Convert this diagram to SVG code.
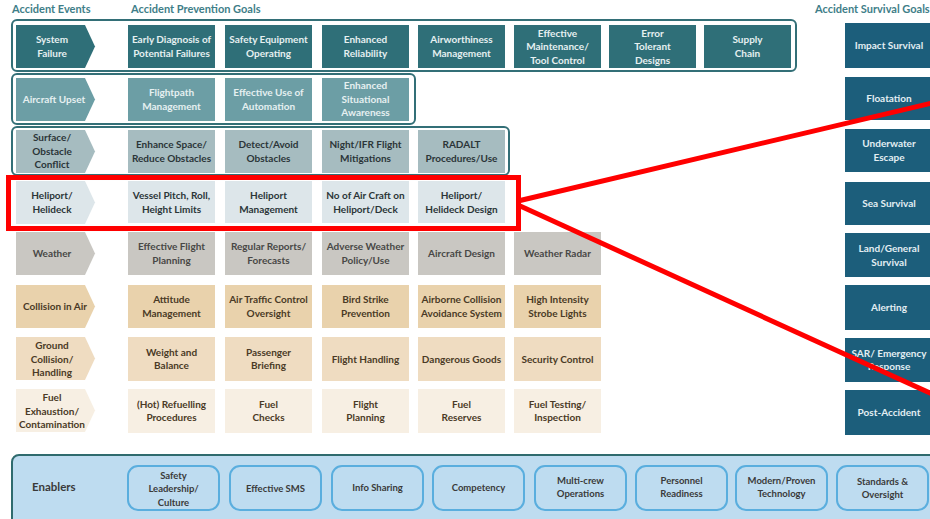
<svg xmlns="http://www.w3.org/2000/svg" width="930" height="519" viewBox="0 0 930 519">
<style>
text{font-family:Lato,"Liberation Sans",sans-serif;font-weight:bold;font-size:10px;text-anchor:middle}
.hdr{fill:#3e7e88;font-size:11px;text-anchor:start}
.frame{fill:#fff;stroke:#336f77;stroke-width:2}
.r1{fill:#2f6f78}.r2{fill:#6c9ea5}.r3{fill:#a6bcc0}.r4{fill:#dde6ea}.r5{fill:#c9c7c2}.r6{fill:#e9d2ac}.r7{fill:#efdcc1}.r8{fill:#f7efe3}
.t1{fill:#e6f0f1}.t3{fill:#2b3538}.t5{fill:#484846}.t6{fill:#4a3a26}
.surv{fill:#1c5e7b}.ts{fill:#e3eef3}
.enb{fill:#bedcf0;stroke:#2f6b6e;stroke-width:2}
.pill{fill:#bedcf0;stroke:#5aaede;stroke-width:2}
.te{fill:#3a3a3a;font-size:9.5px}
.red{fill:none;stroke:#ff0000;stroke-width:5}
</style>
<defs>
<polygon id="chev" points="0,0 69,0 79,21.5 69,43 0,43"/>
</defs>

<text class="hdr" x="12" y="13">Accident Events</text>
<text class="hdr" x="131" y="13">Accident Prevention Goals</text>
<text class="hdr" x="815" y="13">Accident Survival Goals</text>

<rect class="frame" x="12" y="20" width="784" height="51" rx="5"/>
<rect class="frame" x="12" y="74" width="403" height="50" rx="5"/>
<rect class="frame" x="12" y="127" width="497" height="48" rx="5"/>

<!-- Row 1 -->
<g id="system-failure"><use href="#chev" x="16" y="25" class="r1"/><text class="t1" x="52" y="43"><tspan x="52">System</tspan><tspan x="52" dy="13.5">Failure</tspan></text></g>
<g id="early-diagnosis"><rect class="r1" x="128" y="25" width="87" height="43"/><text class="t1" y="43"><tspan x="171.5">Early Diagnosis of</tspan><tspan x="171.5" dy="13.5">Potential Failures</tspan></text></g>
<g id="safety-equipment"><rect class="r1" x="225" y="25" width="87" height="43"/><text class="t1" y="43"><tspan x="268.5">Safety Equipment</tspan><tspan x="268.5" dy="13.5">Operating</tspan></text></g>
<g id="enhanced-reliability"><rect class="r1" x="322" y="25" width="87" height="43"/><text class="t1" y="43"><tspan x="365.5">Enhanced</tspan><tspan x="365.5" dy="13.5">Reliability</tspan></text></g>
<g id="airworthiness"><rect class="r1" x="418" y="25" width="87" height="43"/><text class="t1" y="43"><tspan x="461.5">Airworthiness</tspan><tspan x="461.5" dy="13.5">Management</tspan></text></g>
<g id="effective-maintenance"><rect class="r1" x="514" y="25" width="87" height="43"/><text class="t1" y="36.5"><tspan x="557.5">Effective</tspan><tspan x="557.5" dy="13.5">Maintenance/</tspan><tspan x="557.5" dy="13.5">Tool Control</tspan></text></g>
<g id="error-tolerant"><rect class="r1" x="609" y="25" width="87" height="43"/><text class="t1" y="36.5"><tspan x="652.5">Error</tspan><tspan x="652.5" dy="13.5">Tolerant</tspan><tspan x="652.5" dy="13.5">Designs</tspan></text></g>
<g id="supply-chain"><rect class="r1" x="704" y="25" width="87" height="43"/><text class="t1" y="43"><tspan x="747.5">Supply</tspan><tspan x="747.5" dy="13.5">Chain</tspan></text></g>

<!-- Row 2 -->
<g id="aircraft-upset"><use href="#chev" x="16" y="78" class="r2"/><text class="t1" x="54" y="103">Aircraft Upset</text></g>
<g id="flightpath"><rect class="r2" x="128" y="78" width="87" height="43"/><text class="t1" y="96"><tspan x="171.5">Flightpath</tspan><tspan x="171.5" dy="13.5">Management</tspan></text></g>
<g id="automation"><rect class="r2" x="225" y="78" width="87" height="43"/><text class="t1" y="96"><tspan x="268.5">Effective Use of</tspan><tspan x="268.5" dy="13.5">Automation</tspan></text></g>
<g id="situational-awareness"><rect class="r2" x="322" y="78" width="87" height="43"/><text class="t1" y="89"><tspan x="365.5">Enhanced</tspan><tspan x="365.5" dy="13.5">Situational</tspan><tspan x="365.5" dy="13.5">Awareness</tspan></text></g>

<!-- Row 3 -->
<g id="surface-obstacle"><use href="#chev" x="16" y="130" class="r3" transform="translate(0,0)"/><text class="t3" y="141"><tspan x="52">Surface/</tspan><tspan x="52" dy="13.5">Obstacle</tspan><tspan x="52" dy="13.5">Conflict</tspan></text></g>
<g id="enhance-space"><rect class="r3" x="128" y="130" width="87" height="43"/><text class="t3" y="148"><tspan x="171.5">Enhance Space/</tspan><tspan x="171.5" dy="13.5">Reduce Obstacles</tspan></text></g>
<g id="detect-avoid"><rect class="r3" x="225" y="130" width="87" height="43"/><text class="t3" y="148"><tspan x="268.5">Detect/Avoid</tspan><tspan x="268.5" dy="13.5">Obstacles</tspan></text></g>
<g id="night-ifr"><rect class="r3" x="322" y="130" width="87" height="43"/><text class="t3" y="148"><tspan x="365.5">Night/IFR Flight</tspan><tspan x="365.5" dy="13.5">Mitigations</tspan></text></g>
<g id="radalt"><rect class="r3" x="418" y="130" width="87" height="43"/><text class="t3" y="148"><tspan x="461.5">RADALT</tspan><tspan x="461.5" dy="13.5">Procedures/Use</tspan></text></g>

<!-- Row 4 -->
<g id="heliport-helideck"><use href="#chev" x="16" y="181" class="r4"/><text class="t3" y="199"><tspan x="52">Heliport/</tspan><tspan x="52" dy="13.5">Helideck</tspan></text></g>
<g id="vessel-pitch"><rect class="r4" x="128" y="181" width="87" height="42"/><text class="t3" y="199"><tspan x="171.5">Vessel Pitch, Roll,</tspan><tspan x="171.5" dy="13.5">Height Limits</tspan></text></g>
<g id="heliport-management"><rect class="r4" x="225" y="181" width="87" height="42"/><text class="t3" y="199"><tspan x="268.5">Heliport</tspan><tspan x="268.5" dy="13.5">Management</tspan></text></g>
<g id="no-of-aircraft"><rect class="r4" x="322" y="181" width="87" height="42"/><text class="t3" y="199"><tspan x="365.5">No of Air Craft on</tspan><tspan x="365.5" dy="13.5">Heliport/Deck</tspan></text></g>
<g id="helideck-design"><rect class="r4" x="418" y="181" width="87" height="42"/><text class="t3" y="199"><tspan x="461.5">Heliport/</tspan><tspan x="461.5" dy="13.5">Helideck Design</tspan></text></g>

<!-- Row 5 -->
<g id="weather"><use href="#chev" x="16" y="232" class="r5"/><text class="t5" x="52" y="257">Weather</text></g>
<g id="effective-flight-planning"><rect class="r5" x="128" y="232" width="87" height="43"/><text class="t5" y="250"><tspan x="171.5">Effective Flight</tspan><tspan x="171.5" dy="13.5">Planning</tspan></text></g>
<g id="regular-reports"><rect class="r5" x="225" y="232" width="87" height="43"/><text class="t5" y="250"><tspan x="268.5">Regular Reports/</tspan><tspan x="268.5" dy="13.5">Forecasts</tspan></text></g>
<g id="adverse-weather"><rect class="r5" x="322" y="232" width="87" height="43"/><text class="t5" y="250"><tspan x="365.5">Adverse Weather</tspan><tspan x="365.5" dy="13.5">Policy/Use</tspan></text></g>
<g id="aircraft-design"><rect class="r5" x="418" y="232" width="87" height="43"/><text class="t5" x="461.5" y="257">Aircraft Design</text></g>
<g id="weather-radar"><rect class="r5" x="514" y="232" width="87" height="43"/><text class="t5" x="557.5" y="257">Weather Radar</text></g>

<!-- Row 6 -->
<g id="collision-in-air"><use href="#chev" x="16" y="285" class="r6"/><text class="t6" x="55" y="310">Collision in Air</text></g>
<g id="attitude-management"><rect class="r6" x="128" y="285" width="87" height="43"/><text class="t6" y="303"><tspan x="171.5">Attitude</tspan><tspan x="171.5" dy="13.5">Management</tspan></text></g>
<g id="atc-oversight"><rect class="r6" x="225" y="285" width="87" height="43"/><text class="t6" y="303"><tspan x="268.5">Air Traffic Control</tspan><tspan x="268.5" dy="13.5">Oversight</tspan></text></g>
<g id="bird-strike"><rect class="r6" x="322" y="285" width="87" height="43"/><text class="t6" y="303"><tspan x="365.5">Bird Strike</tspan><tspan x="365.5" dy="13.5">Prevention</tspan></text></g>
<g id="airborne-collision"><rect class="r6" x="418" y="285" width="87" height="43"/><text class="t6" y="303"><tspan x="461.5">Airborne Collision</tspan><tspan x="461.5" dy="13.5">Avoidance System</tspan></text></g>
<g id="strobe-lights"><rect class="r6" x="514" y="285" width="87" height="43"/><text class="t6" y="303"><tspan x="557.5">High Intensity</tspan><tspan x="557.5" dy="13.5">Strobe Lights</tspan></text></g>

<!-- Row 7 -->
<g id="ground-collision"><use href="#chev" x="16" y="337" class="r7"/><text class="t6" y="349"><tspan x="52">Ground</tspan><tspan x="52" dy="13.5">Collision/</tspan><tspan x="52" dy="13.5">Handling</tspan></text></g>
<g id="weight-balance"><rect class="r7" x="128" y="337" width="87" height="44"/><text class="t6" y="355.5"><tspan x="171.5">Weight and</tspan><tspan x="171.5" dy="13.5">Balance</tspan></text></g>
<g id="passenger-briefing"><rect class="r7" x="225" y="337" width="87" height="44"/><text class="t6" y="355.5"><tspan x="268.5">Passenger</tspan><tspan x="268.5" dy="13.5">Briefing</tspan></text></g>
<g id="flight-handling"><rect class="r7" x="322" y="337" width="87" height="44"/><text class="t6" x="365.5" y="362.5">Flight Handling</text></g>
<g id="dangerous-goods"><rect class="r7" x="418" y="337" width="87" height="44"/><text class="t6" x="461.5" y="362.5">Dangerous Goods</text></g>
<g id="security-control"><rect class="r7" x="514" y="337" width="87" height="44"/><text class="t6" x="557.5" y="362.5">Security Control</text></g>

<!-- Row 8 -->
<g id="fuel-exhaustion"><use href="#chev" x="16" y="389" class="r8"/><text class="t6" y="401"><tspan x="52">Fuel</tspan><tspan x="52" dy="13.5">Exhaustion/</tspan><tspan x="52" dy="13.5">Contamination</tspan></text></g>
<g id="hot-refuelling"><rect class="r8" x="128" y="389" width="87" height="44"/><text class="t6" y="407.5"><tspan x="171.5">(Hot) Refuelling</tspan><tspan x="171.5" dy="13.5">Procedures</tspan></text></g>
<g id="fuel-checks"><rect class="r8" x="225" y="389" width="87" height="44"/><text class="t6" y="407.5"><tspan x="268.5">Fuel</tspan><tspan x="268.5" dy="13.5">Checks</tspan></text></g>
<g id="flight-planning"><rect class="r8" x="322" y="389" width="87" height="44"/><text class="t6" y="407.5"><tspan x="365.5">Flight</tspan><tspan x="365.5" dy="13.5">Planning</tspan></text></g>
<g id="fuel-reserves"><rect class="r8" x="418" y="389" width="87" height="44"/><text class="t6" y="407.5"><tspan x="461.5">Fuel</tspan><tspan x="461.5" dy="13.5">Reserves</tspan></text></g>
<g id="fuel-testing"><rect class="r8" x="514" y="389" width="87" height="44"/><text class="t6" y="407.5"><tspan x="557.5">Fuel Testing/</tspan><tspan x="557.5" dy="13.5">Inspection</tspan></text></g>

<!-- Survival goals -->
<g id="impact-survival"><rect class="surv" x="845" y="23" width="90" height="45"/><text class="ts" x="889" y="49">Impact Survival</text></g>
<g id="floatation"><rect class="surv" x="845" y="77" width="90" height="43"/><text class="ts" x="889" y="102">Floatation</text></g>
<g id="underwater-escape"><rect class="surv" x="845" y="129" width="90" height="43"/><text class="ts" y="147"><tspan x="889">Underwater</tspan><tspan x="889" dy="13.5">Escape</tspan></text></g>
<g id="sea-survival"><rect class="surv" x="845" y="182" width="90" height="43"/><text class="ts" x="889" y="207">Sea Survival</text></g>
<g id="land-survival"><rect class="surv" x="845" y="233" width="90" height="44"/><text class="ts" y="252"><tspan x="889">Land/General</tspan><tspan x="889" dy="13.5">Survival</tspan></text></g>
<g id="alerting"><rect class="surv" x="845" y="285" width="90" height="45"/><text class="ts" x="889" y="311">Alerting</text></g>
<g id="sar-emergency"><rect class="surv" x="845" y="338" width="90" height="44"/><text class="ts" y="356.5"><tspan x="889">SAR/ Emergency</tspan><tspan x="889" dy="13.5">Response</tspan></text></g>
<g id="post-accident"><rect class="surv" x="845" y="390" width="90" height="45"/><text class="ts" x="889" y="416">Post-Accident</text></g>

<!-- Enablers -->
<g id="enablers">
<rect class="enb" x="12" y="455" width="930" height="70" rx="7"/>
<text class="te" x="32" y="491" style="text-anchor:start;font-size:11.5px">Enablers</text>
</g>
<g id="safety-leadership"><rect class="pill" x="128" y="466" width="91" height="44" rx="10"/><text class="te" y="478.5"><tspan x="173.5">Safety</tspan><tspan x="173.5" dy="13.5">Leadership/</tspan><tspan x="173.5" dy="13.5">Culture</tspan></text></g>
<g id="effective-sms"><rect class="pill" x="230" y="466" width="91" height="44" rx="10"/><text class="te" x="275.5" y="491.5">Effective SMS</text></g>
<g id="info-sharing"><rect class="pill" x="332" y="466" width="91" height="44" rx="10"/><text class="te" x="377.5" y="491">Info Sharing</text></g>
<g id="competency"><rect class="pill" x="433" y="466" width="91" height="44" rx="10"/><text class="te" x="478.5" y="491">Competency</text></g>
<g id="multi-crew"><rect class="pill" x="535" y="466" width="91" height="44" rx="10"/><text class="te" y="483.5"><tspan x="580.5">Multi-crew</tspan><tspan x="580.5" dy="13.5">Operations</tspan></text></g>
<g id="personnel-readiness"><rect class="pill" x="636" y="466" width="91" height="44" rx="10"/><text class="te" y="483.5"><tspan x="681.5">Personnel</tspan><tspan x="681.5" dy="13.5">Readiness</tspan></text></g>
<g id="modern-technology"><rect class="pill" x="736" y="466" width="91" height="44" rx="10"/><text class="te" y="483.5"><tspan x="781.5">Modern/Proven</tspan><tspan x="781.5" dy="13.5">Technology</tspan></text></g>
<g id="standards-oversight"><rect class="pill" x="837" y="466" width="91" height="44" rx="10"/><text class="te" y="484.5"><tspan x="882.5">Standards &amp;</tspan><tspan x="882.5" dy="13.5">Oversight</tspan></text></g>

<!-- Highlight -->
<g id="highlight"><rect class="red" x="8.5" y="177.5" width="510" height="51"/></g>

<g id="connectors">
<line class="red" x1="518" y1="201" x2="932" y2="103"/>
<line class="red" x1="518" y1="205" x2="932" y2="394"/>
</g>
</svg>
